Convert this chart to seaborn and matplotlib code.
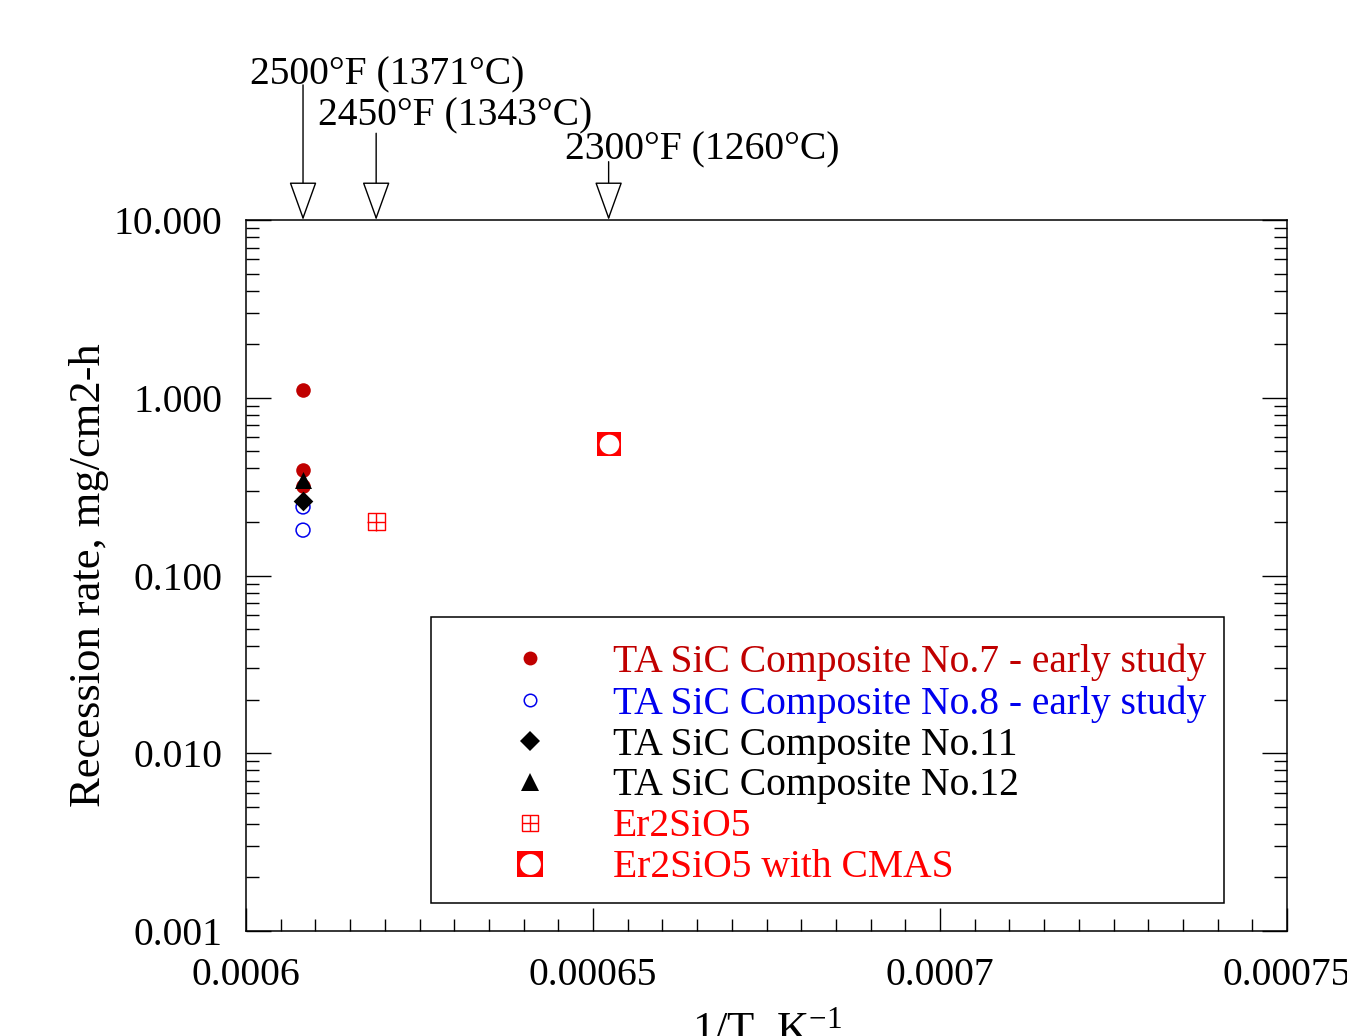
import numpy as np
import pandas as pd
import matplotlib
matplotlib.use("Agg")
import matplotlib.pyplot as plt
import matplotlib.ticker as mticker
from matplotlib.lines import Line2D
from matplotlib.legend_handler import HandlerTuple
import seaborn as sns

# --- data ---
temps_C = [1371, 1343, 1260]
temps_label = ["2500°F (1371°C)", "2450°F (1343°C)", "2300°F (1260°C)"]
invT = [1.0 / (t + 273.15) for t in temps_C]

no7_x = [invT[0], invT[0], invT[0]]
no7_y = [1.10, 0.39, 0.32]
no8_x = [invT[0], invT[0]]
no8_y = [0.243, 0.180]
no11_x = [invT[0]]
no11_y = [0.264]
no12_x = [invT[0]]
no12_y = [0.345]
er_x = [invT[1]]
er_y = [0.200]
cmas_x = [invT[2]]
cmas_y = [0.55]

series_names = [
    "TA SiC Composite No.7 - early study",
    "TA SiC Composite No.8 - early study",
    "TA SiC Composite No.11",
    "TA SiC Composite No.12",
    "Er2SiO5",
    "Er2SiO5 with CMAS",
]
text_colors = ["#c00000", "#0000ee", "black", "black", "#ff0000", "#ff0000"]

xticks = [0.0006, 0.00065, 0.0007, 0.00075]
xtick_labels = ["0.0006", "0.00065", "0.0007", "0.00075"]
yticks = [0.001, 0.01, 0.1, 1, 10]
ytick_labels = ["0.001", "0.010", "0.100", "1.000", "10.000"]

# --- style ---
sns.set_style("ticks")
plt.rcParams["font.family"] = ["Liberation Serif", "DejaVu Serif"]
plt.rcParams["mathtext.default"] = "regular"
plt.rcParams["text.color"] = "black"
plt.rcParams["axes.labelcolor"] = "black"
plt.rcParams["xtick.color"] = "black"
plt.rcParams["ytick.color"] = "black"
FS = 28.5
FS_LAB = 32

fig = plt.figure(figsize=(13.47, 10.36), dpi=100)
ax = fig.add_axes([246 / 1347, 1 - 931 / 1036, (1287 - 246) / 1347, (931 - 220) / 1036])

RED = "#c00000"
BRED = "#ff0000"
BLUE = "#0000ee"

sns.scatterplot(x=no7_x, y=no7_y, ax=ax, marker="o", s=110, color=RED, edgecolor=RED, linewidth=0, zorder=3)
sns.scatterplot(x=no8_x, y=no8_y, ax=ax, marker="o", s=100, facecolor="none", edgecolor=BLUE, linewidth=1.1, zorder=3)
sns.scatterplot(x=no12_x, y=no12_y, ax=ax, marker="^", s=150, color="black", edgecolor="black", linewidth=0, zorder=4)
sns.scatterplot(x=no11_x, y=no11_y, ax=ax, marker="D", s=100, color="black", edgecolor="black", linewidth=0, zorder=4)
sns.scatterplot(x=er_x, y=er_y, ax=ax, marker="s", s=150, facecolor="none", edgecolor=BRED, linewidth=1.0, zorder=3)
sns.scatterplot(x=er_x, y=er_y, ax=ax, marker="+", s=150, color=BRED, linewidth=1.0, zorder=3)
sns.scatterplot(x=cmas_x, y=cmas_y, ax=ax, marker="s", s=320, color=BRED, edgecolor=BRED, linewidth=0, zorder=3)
sns.scatterplot(x=cmas_x, y=cmas_y, ax=ax, marker="o", s=200, color="white", edgecolor="white", linewidth=0, zorder=4)

ax.set_yscale("log")
ax.set_xlim(0.0006, 0.00075)
ax.set_ylim(0.001, 10)

ax.xaxis.set_major_locator(mticker.FixedLocator(xticks))
ax.xaxis.set_major_formatter(mticker.FixedFormatter(xtick_labels))
ax.xaxis.set_minor_locator(mticker.MultipleLocator(0.000005))
ax.yaxis.set_major_locator(mticker.FixedLocator(yticks))
ax.yaxis.set_major_formatter(mticker.FixedFormatter(ytick_labels))
ax.yaxis.set_minor_locator(mticker.LogLocator(base=10, subs=np.arange(2, 10)))
ax.yaxis.set_minor_formatter(mticker.NullFormatter())

ax.tick_params(axis="x", which="both", direction="in", top=False, bottom=True, labelsize=FS, pad=19, width=1)
ax.tick_params(axis="x", which="major", length=16.5)
ax.tick_params(axis="x", which="minor", length=8.6)
ax.tick_params(axis="y", which="both", direction="in", left=True, right=True, labelsize=FS, pad=17, width=1)
ax.tick_params(axis="y", which="major", length=18)
ax.tick_params(axis="y", which="minor", length=9.4)
for sp in ax.spines.values():
    sp.set_visible(True)
    sp.set_color("black")
    sp.set_linewidth(1.1)

ax.set_xlabel(r"1/T, K$^{-1}$", fontsize=FS_LAB, labelpad=8)
ax.set_ylabel("Recession rate, mg/cm2-h", fontsize=FS_LAB, labelpad=3)

# temperature arrows above the frame
arrow_start = [1.19, 1.122, 1.082]
label_pos = [(0.0038, 1.204), (0.069, 1.146), (0.3064, 1.0985)]
for xv, ys, lab, (tx, ty) in zip(invT, arrow_start, temps_label, label_pos):
    ax.annotate("", xy=(xv, 1.0), xycoords=("data", "axes fraction"),
                xytext=(xv, ys), textcoords=("data", "axes fraction"),
                arrowprops=dict(arrowstyle="-|>,head_length=1.25,head_width=0.45",
                                mutation_scale=20, fc="white", ec="black", lw=1,
                                shrinkA=0, shrinkB=0),
                annotation_clip=False)
    ax.text(tx, ty, lab, transform=ax.transAxes, fontsize=FS, ha="left", va="center")

# legend
handles = [
    Line2D([], [], ls="none", marker="o", ms=10, mfc=RED, mec=RED, mew=0),
    Line2D([], [], ls="none", marker="o", ms=9, mfc="none", mec=BLUE, mew=1.1),
    Line2D([], [], ls="none", marker="D", ms=10, mfc="black", mec="black", mew=0),
    Line2D([], [], ls="none", marker="^", ms=13, mfc="black", mec="black", mew=0),
    (Line2D([], [], ls="none", marker="s", ms=12, mfc="none", mec=BRED, mew=1.0),
     Line2D([], [], ls="none", marker="+", ms=12, mec=BRED, mew=1.0)),
    (Line2D([], [], ls="none", marker="s", ms=19, mfc=BRED, mec=BRED, mew=0),
     Line2D([], [], ls="none", marker="o", ms=15, mfc="white", mec="white", mew=0)),
]
leg = ax.legend(handles, series_names, handler_map={tuple: HandlerTuple(ndivide=1)},
                loc="center left", bbox_to_anchor=((510 - 246) / 1041, (931 - 765) / 711),
                frameon=False, fontsize=FS, handlelength=1.0, handletextpad=1.6,
                borderpad=0, labelspacing=0.1, borderaxespad=0)
for t, c in zip(leg.get_texts(), text_colors):
    t.set_color(c)

ax.add_patch(plt.Rectangle(((431 - 246) / 1041, (931 - 903) / 711),
                           (1224 - 431) / 1041, (903 - 617) / 711,
                           transform=ax.transAxes, fill=False, ec="black", lw=1.1, zorder=2))

fig.savefig("out.png", dpi=100)
